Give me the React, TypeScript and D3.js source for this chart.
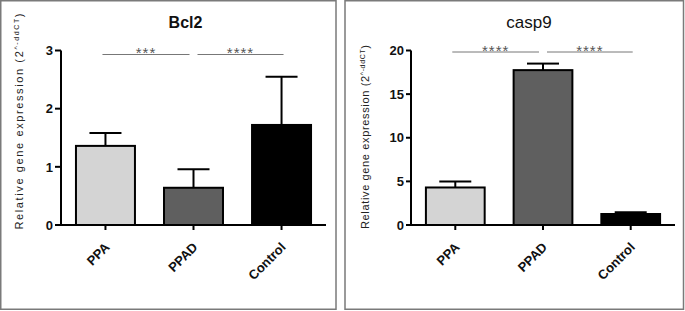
import React from "react";
import * as d3 from "d3";

const categories = ["PPA", "PPAD", "Control"];
const bcl2Means = [1.36, 0.64, 1.72];
const bcl2Errors = [0.22, 0.32, 0.83];
const bcl2Ticks = [0, 1, 2, 3];
const bcl2Stars = ["***", "****"];
const casp9Means = [4.3, 17.75, 1.26];
const casp9Errors = [0.7, 0.75, 0.2];
const casp9Ticks = [0, 5, 10, 15, 20];
const casp9Stars = ["****", "****"];
const fills = ["#d4d4d4", "#5f5f5f", "#000000"];

const FONT = "'Liberation Sans', Arial, sans-serif";

type PanelProps = {
  title: string;
  titleBold: boolean;
  titleSize: number;
  titleX: number;
  means: number[];
  errors: number[];
  ticks: number[];
  stars: string[];
  box: [number, number];
  x0: number;
  x1: number;
  yTop: number;
  yBottom: number;
  tickSize: number;
  labelX: number;
  labelY: number;
  labelLen: number;
  sigY: number;
};

function Panel(p: PanelProps) {
  const x = d3
    .scaleBand<string>()
    .domain(categories)
    .range([p.x0, p.x1])
    .paddingInner(0.33)
    .paddingOuter(0.17);
  const yMax = p.ticks[p.ticks.length - 1];
  const y = d3.scaleLinear().domain([0, yMax]).range([p.yBottom, p.yTop]);
  const cx = (c: string) => (x(c) as number) + x.bandwidth() / 2;
  const capW = 32;
  const centers = categories.map(cx);
  return (
    <g>
      <rect
        x={p.box[0]}
        y={0.75}
        width={p.box[1] - p.box[0]}
        height={308.5}
        fill="white"
        stroke="#7a7a7a"
        strokeWidth={1.5}
      />
      <text
        x={p.titleX}
        y={28}
        textAnchor="middle"
        fontFamily={FONT}
        fontWeight={p.titleBold ? "bold" : "normal"}
        fontSize={p.titleSize}
        fill="#111"
      >
        {p.title}
      </text>
      <text
        transform={`translate(${p.labelX},${p.labelY}) rotate(-90)`}
        textAnchor="middle"
        fontFamily={FONT}
        fontSize={11}
        fill="#222"
        textLength={p.labelLen}
        lengthAdjust="spacing"
      >
        Relative gene expression (2
        <tspan fontSize={7} dy={-4}>^-ddCT</tspan>
        <tspan dy={4}>)</tspan>
      </text>
      {categories.map((c, i) => {
        const top = y(p.means[i]);
        const eTop = y(p.means[i] + p.errors[i]);
        const xc = cx(c);
        return (
          <g key={c}>
            <line x1={xc} x2={xc} y1={top} y2={eTop} stroke="#000" strokeWidth={2} />
            <line
              x1={xc - capW / 2}
              x2={xc + capW / 2}
              y1={eTop}
              y2={eTop}
              stroke="#000"
              strokeWidth={2}
            />
            <rect
              x={x(c) as number}
              y={top}
              width={x.bandwidth()}
              height={p.yBottom - top}
              fill={fills[i]}
              stroke="#000"
              strokeWidth={2}
            />
          </g>
        );
      })}
      <line x1={p.x0} x2={p.x0} y1={p.yTop} y2={p.yBottom + 1} stroke="#000" strokeWidth={2} />
      <line x1={p.x0} x2={p.x1} y1={p.yBottom} y2={p.yBottom} stroke="#000" strokeWidth={2} />
      {p.ticks.map((t) => (
        <g key={t}>
          <line
            x1={p.x0 - p.tickSize}
            x2={p.x0}
            y1={y(t)}
            y2={y(t)}
            stroke="#000"
            strokeWidth={2}
          />
          <text
            x={p.x0 - p.tickSize - 2}
            y={y(t)}
            dy="0.36em"
            textAnchor="end"
            fontFamily={FONT}
            fontWeight="bold"
            fontSize={13}
            fill="#111"
          >
            {t}
          </text>
        </g>
      ))}
      {categories.map((c) => (
        <g key={c}>
          <line
            x1={cx(c)}
            x2={cx(c)}
            y1={p.yBottom}
            y2={p.yBottom + 5}
            stroke="#000"
            strokeWidth={2}
          />
          <text
            transform={`translate(${cx(c) + 5},${p.yBottom + 23}) rotate(-45)`}
            textAnchor="end"
            fontFamily={FONT}
            fontWeight="bold"
            fontSize={13}
            fill="#111"
          >
            {c}
          </text>
        </g>
      ))}
      {p.stars.map((s, i) => {
        const a = i === 0 ? centers[0] - 3 : centers[1] + 4;
        const b = i === 0 ? centers[1] - 4 : centers[2] + 2;
        return (
          <g key={i}>
            <line x1={a} x2={b} y1={p.sigY} y2={p.sigY} stroke="#777" strokeWidth={1} />
            <text
              x={(a + b) / 2}
              y={p.sigY + 3.5}
              textAnchor="middle"
              fontFamily={FONT}
              fontSize={15}
              letterSpacing={1}
              fill="#555"
            >
              {s}
            </text>
          </g>
        );
      })}
    </g>
  );
}

export default function App() {
  return (
    <svg
      width={685}
      height={311}
      style={{ position: "absolute", left: 0, top: 0, background: "white" }}
    >
      <rect x={0} y={0} width={685} height={311} fill="white" />
      <Panel
        title="Bcl2"
        titleBold={true}
        titleSize={16}
        titleX={185.5}
        means={bcl2Means}
        errors={bcl2Errors}
        ticks={bcl2Ticks}
        stars={bcl2Stars}
        box={[0.75, 336]}
        x0={61}
        x1={326}
        yTop={50.5}
        yBottom={225}
        tickSize={6}
        labelX={23}
        labelY={121.5}
        labelLen={216}
        sigY={54.5}
      />
      <Panel
        title="casp9"
        titleBold={false}
        titleSize={17}
        titleX={529}
        means={casp9Means}
        errors={casp9Errors}
        ticks={casp9Ticks}
        stars={casp9Stars}
        box={[345, 683.5]}
        x0={411}
        x1={675}
        yTop={50.5}
        yBottom={225}
        tickSize={5}
        labelX={369}
        labelY={137}
        labelLen={184}
        sigY={52}
      />
    </svg>
  );
}
